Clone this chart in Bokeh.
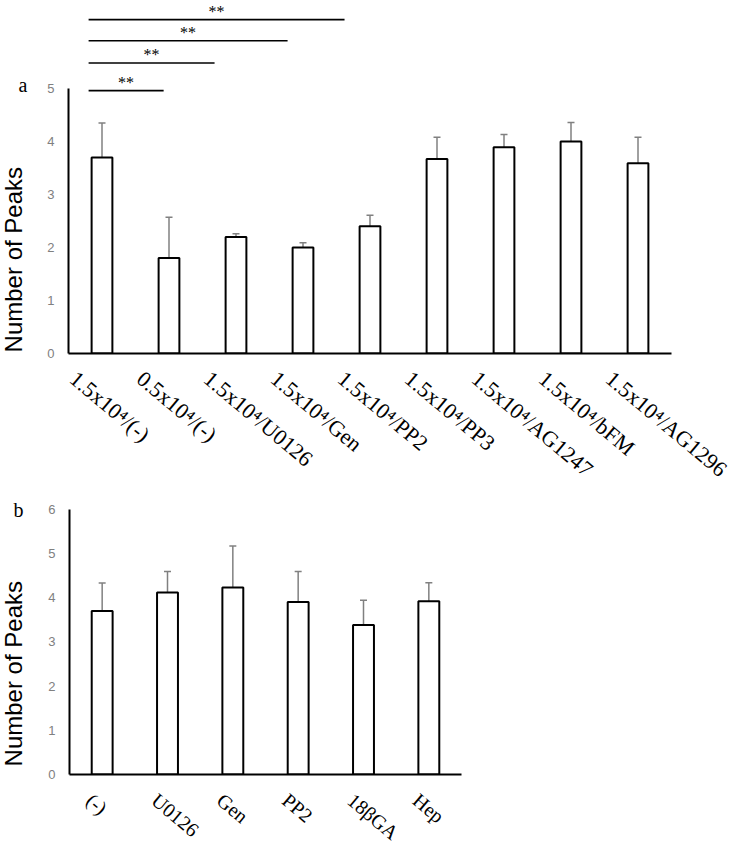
import math
from bokeh.plotting import figure
from bokeh.models import (ColumnDataSource, Range1d, FixedTicker,
                          Whisker, TeeHead, LinearAxis, LinearScale)
from bokeh.layouts import column, row
from bokeh.embed import file_html
from bokeh.resources import INLINE
from bokeh.core.properties import value

# ---------------- data: panel a ----------------
cats_a = ["1.5x10⁴/(-)", "0.5x10⁴/(-)", "1.5x10⁴/U0126", "1.5x10⁴/Gen",
          "1.5x10⁴/PP2", "1.5x10⁴/PP3", "1.5x10⁴/AG1247", "1.5x10⁴/bFM",
          "1.5x10⁴/AG1296"]
means_a = [3.70, 1.80, 2.20, 2.00, 2.40, 3.67, 3.89, 4.00, 3.59]
sd_a = [0.65, 0.77, 0.06, 0.09, 0.21, 0.41, 0.24, 0.36, 0.49]
yticks_a = [0, 1, 2, 3, 4, 5]

# significance brackets (panel a), x in category-slot units
sig_x0 = [0.30, 0.30, 0.30, 0.30]
sig_x1 = [1.42, 2.18, 3.27, 4.12]
sig_y = [4.96, 5.48, 5.90, 6.30]
sig_text = ["**", "**", "**", "**"]

# ---------------- data: panel b ----------------
cats_b = ["(-)", "U0126", "Gen", "PP2", "18βGA", "Hep"]
means_b = [3.70, 4.12, 4.23, 3.90, 3.38, 3.92]
sd_b = [0.63, 0.47, 0.94, 0.69, 0.56, 0.42]
yticks_b = [0, 1, 2, 3, 4, 5, 6]

y_title = "Number of Peaks"

GRAY = "#808080"
SANS = "Liberation Sans"
SERIF = "Liberation Serif"
ANG = -math.radians(40)


def panel(cats, means, sd, yend, yticks, bounds, frame_w, frame_h, left, top,
          bottom, right, width_frac, lab_dx, lab_dy, lab_size):
    n = len(cats)
    cat_px = frame_w / n
    shift = -lab_dx / cat_px
    pos = [i + 0.5 for i in range(n)]
    p = figure(x_range=Range1d(0, n), y_range=Range1d(0, yend),
               frame_width=frame_w, frame_height=frame_h,
               min_border_left=left, min_border_top=top,
               min_border_bottom=bottom, min_border_right=right,
               x_axis_type=None,
               output_backend="svg", toolbar_location=None)
    p.outline_line_color = None
    p.xgrid.visible = False
    p.ygrid.visible = False
    src = ColumnDataSource(dict(
        x=pos, top=means, name=cats,
        upper=[m + s for m, s in zip(means, sd)]))
    p.vbar(x="x", top="top", width=width_frac, source=src,
           fill_color="white", line_color="black", line_width=2)
    w = Whisker(base="x", lower="top", upper="upper", source=src,
                dimension="height", line_color=GRAY, line_width=1.5,
                upper_head=TeeHead(size=7, line_color=GRAY, line_width=1.5),
                lower_head=None)
    p.add_layout(w)

    # y axis
    ya = p.yaxis[0]
    ya.ticker = FixedTicker(ticks=yticks)
    ya.bounds = bounds
    ya.axis_line_color = "black"
    ya.axis_line_width = 2
    ya.major_tick_out = 0
    ya.major_tick_in = 0
    ya.minor_tick_out = 0
    ya.minor_tick_in = 0
    ya.major_label_text_color = GRAY
    ya.major_label_text_font = SANS
    ya.major_label_text_font_size = "13px"
    ya.major_label_standoff = 14

    # x axis: category labels, placed like Excel's rotated labels
    p.extra_x_ranges = {"lab": Range1d(shift, n + shift)}
    p.extra_x_scales = {"lab": LinearScale()}
    xa = LinearAxis(x_range_name="lab", ticker=FixedTicker(ticks=pos),
                    major_label_overrides={v: c for v, c in zip(pos, cats)},
                    major_label_orientation=ANG,
                    major_label_standoff=lab_dy,
                    major_label_text_font=SERIF,
                    major_label_text_font_size=lab_size,
                    major_label_text_color="black",
                    axis_line_color="black", axis_line_width=2,
                    major_tick_out=0, major_tick_in=0,
                    minor_tick_out=0, minor_tick_in=0)
    p.add_layout(xa, "below")
    return p


def side(width, frame_h, top, bottom, yend, texts):
    # a text-only strip whose frame lines up with the panel's frame
    f = figure(frame_width=width, frame_height=frame_h,
               x_range=Range1d(0, width), y_range=Range1d(0, yend),
               x_axis_location=None, y_axis_location=None,
               min_border_left=0, min_border_right=0,
               min_border_top=top, min_border_bottom=bottom,
               output_backend="svg", toolbar_location=None)
    f.outline_line_color = None
    f.grid.visible = False
    for (tx, ty, t, ang, font, size, align, base) in texts:
        f.text(x=[tx], y=[ty], text=[t], angle=ang, text_align=align,
               text_baseline=base, text_font=value(font),
               text_font_size=size, text_color="black")
    return f


# ---------------- panel a ----------------
SA = 53.0
A_FH, A_BOT = 353, 142
A_END = A_FH / SA
p1 = panel(cats_a, means_a, sd_a, A_END, yticks_a, (0, 5), 603, A_FH, 28, 0,
           A_BOT, 69, 0.31, -29, 22, "22px")
p1.segment(x0=sig_x0, y0=sig_y, x1=sig_x1, y1=sig_y, line_color="black", line_width=1.6)
p1.text(x=[(a + b) / 2 for a, b in zip(sig_x0, sig_x1)], y=sig_y, text=sig_text,
        text_align="center", text_baseline="bottom",
        text_font=value(SERIF), text_font_size="16px", text_color="black")
fa = side(40, A_FH, 0, A_BOT, A_END, [
    (13, 1.77, y_title, math.pi / 2, SANS, "24px", "center", "middle"),
    (18, 5.06, "a", 0, SERIF, "20px", "left", "alphabetic"),
])

# ---------------- panel b ----------------
SB = 44.2
B_FH, B_BOT = 279, 80
B_END = B_FH / SB
p2 = panel(cats_b, means_b, sd_b, B_END, yticks_b, (0, 6), 392, B_FH, 29, 0,
           B_BOT, 20, 0.32, -13, 23, "20px")
fb = side(40, B_FH, 0, B_BOT, B_END, [
    (12.5, 2.28, y_title, math.pi / 2, SANS, "24px", "center", "middle"),
    (13, 5.98, "b", 0, SERIF, "20px", "left", "alphabetic"),
])

layout = column(row(fa, p1, spacing=0), row(fb, p2, spacing=0), spacing=0)
open("out.html", "w").write(file_html(layout, INLINE))
